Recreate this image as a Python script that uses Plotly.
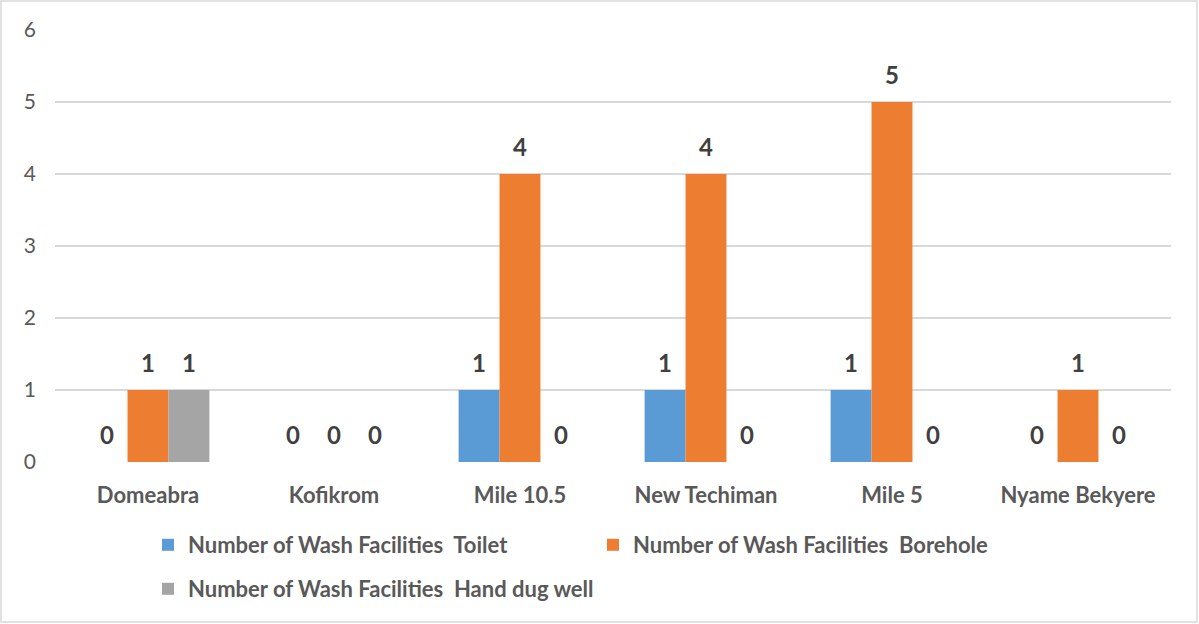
import plotly.graph_objects as go

categories = ["Domeabra", "Kofikrom", "Mile 10.5", "New Techiman", "Mile 5", "Nyame Bekyere"]
toilet = [0, 0, 1, 1, 1, 0]
borehole = [1, 0, 4, 4, 5, 1]
hand_dug = [1, 0, 0, 0, 0, 0]
series_names = ["Number of Wash Facilities  Toilet",
                "Number of Wash Facilities  Borehole",
                "Number of Wash Facilities  Hand dug well"]
colors = ["#5B9BD5", "#ED7D31", "#A5A5A5"]
legend_ids = ["legend", "legend", "legend2"]
y_ticks = [0, 1, 2, 3, 4, 5, 6]

W, H = 1199, 624
ml, mr, mt, mb = 55, 28, 30, 162
bargap = 0.34
font = "Lato"
txt = "#595959"

fig = go.Figure()
series = [toilet, borehole, hand_dug]
for name, vals, c, lg in zip(series_names, series, colors, legend_ids):
    fig.add_trace(go.Bar(x=categories, y=vals, name=name, marker_color=c,
                         marker_line_width=0, legend=lg))

bw = (1 - bargap) / 3
for j, vals in enumerate(series):
    for i, v in enumerate(vals):
        fig.add_annotation(x=i + (j - 1) * bw, y=v, text=str(v), showarrow=False,
                           yanchor="bottom", yshift=11,
                           font=dict(family=font, size=24, color="#404040", weight="bold"))

pw = W - ml - mr
ph = H - mt - mb
fig.add_shape(type="rect", xref="paper", yref="paper",
              x0=(1 - ml) / pw, x1=(W - 2 - ml) / pw,
              y0=-(H - 2 - mt - ph) / ph, y1=(ph + mt - 1) / ph,
              line=dict(color="#D9D9D9", width=1.5), layer="below")

legend_font = dict(family=font, size=22, color=txt, weight="bold")
fig.update_layout(
    width=W, height=H,
    margin=dict(l=ml, r=mr, t=mt, b=mb),
    barmode="group", bargap=bargap, bargroupgap=0,
    plot_bgcolor="white", paper_bgcolor="white",
    font=dict(family=font, color=txt),
    xaxis=dict(showgrid=False, showline=False, ticks="", ticklabelstandoff=18,
               tickfont=dict(family=font, size=22, color=txt, weight="bold")),
    yaxis=dict(range=[0, 6], tickvals=y_ticks, showgrid=True, gridcolor="#D9D9D9",
               gridwidth=1.5, zeroline=False, showline=False, ticks="",
               ticklabelstandoff=18,
               tickfont=dict(family=font, size=21, color=txt)),
    legend=dict(orientation="h", xref="container", yref="container",
                x=148 / W, xanchor="left", y=1 - 524 / H, yanchor="top",
                entrywidth=400, entrywidthmode="pixels", font=legend_font),
    legend2=dict(orientation="h", xref="container", yref="container",
                 x=148 / W, xanchor="left", y=1 - 568 / H, yanchor="top",
                 font=legend_font),
    showlegend=True,
)

fig.write_html("out.html", config={"displayModeBar": False},
               post_script="document.body.style.margin='0';document.body.style.overflow='hidden';")
